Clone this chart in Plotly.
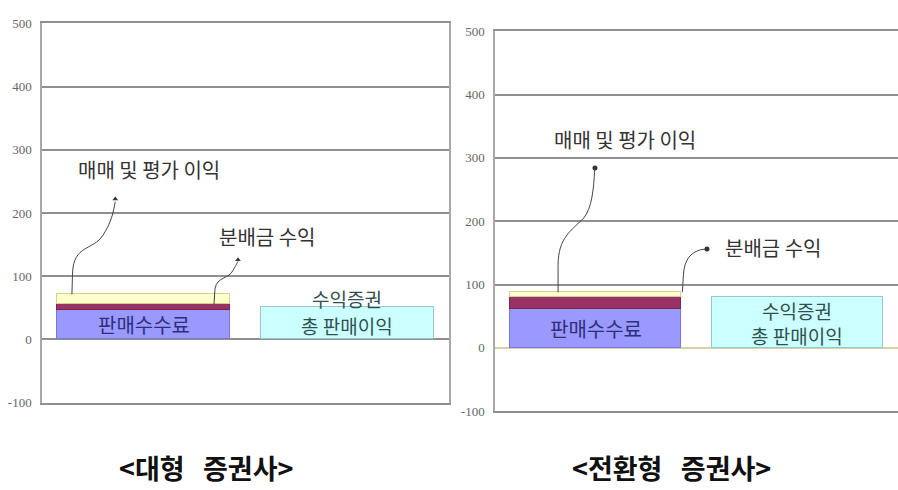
import plotly.graph_objects as go

# ---------------- data ----------------
tick_vals = [-100, 0, 100, 200, 300, 400, 500]
tick_text = ["-100", "0", "100", "200", "300", "400", "500"]

panels = ["<대형  증권사>", "<전환형  증권사>"]
fee = [46, 61]            # 판매수수료
dividend = [9, 19]        # 분배금 수익
trading = [16, 8]         # 매매 및 평가 이익
fund_total = [51, 80]     # 수익증권 총 판매이익

C_BLUE = "#9999FF"
C_RED = "#993366"
C_YEL = "#FFFFCC"
C_CYAN = "#CCFFFF"
GRID = "#8f8f8f"
KR = "Noto Sans CJK KR"

fig = go.Figure()

xdom = [[42 / 898, 449 / 898], [495 / 898, 1.0]]
ydom = [[1 - 408 / 490, 1 - 17 / 490], [1 - 417 / 490, 1 - 25 / 490]]
W = 0.85

for i in range(2):
    xa = "x" if i == 0 else "x2"
    ya = "y" if i == 0 else "y2"
    fig.add_trace(go.Bar(x=[0], y=[fee[i]], width=W, marker=dict(color=C_BLUE, line=dict(color="#7777DD", width=1)),
                         xaxis=xa, yaxis=ya, showlegend=False, hoverinfo="skip"))
    fig.add_trace(go.Bar(x=[0], y=[dividend[i]], width=W, marker=dict(color=C_RED, line=dict(color="#7a2850", width=1)),
                         xaxis=xa, yaxis=ya, showlegend=False, hoverinfo="skip"))
    fig.add_trace(go.Bar(x=[0], y=[trading[i]], width=W, marker=dict(color=C_YEL, line=dict(color="#D8D090", width=1)),
                         xaxis=xa, yaxis=ya, showlegend=False, hoverinfo="skip"))
    fig.add_trace(go.Bar(x=[1], y=[fund_total[i]], width=W, marker=dict(color=C_CYAN, line=dict(color="#99C8C8", width=1.5)),
                         xaxis=xa, yaxis=ya, showlegend=False, hoverinfo="skip"))

fig.update_layout(barmode="stack")

for i in range(2):
    sfx = "" if i == 0 else "2"
    fig.layout["xaxis" + sfx] = dict(domain=xdom[i], range=[-0.5, 1.5], showticklabels=False, showgrid=False,
                                     zeroline=False, showline=True, mirror=True, linecolor=GRID, linewidth=1.5,
                                     anchor="y" + sfx, fixedrange=True)
    fig.layout["yaxis" + sfx] = dict(domain=ydom[i], range=[-100, 500], tickvals=tick_vals, ticktext=tick_text,
                                     showgrid=True, gridcolor=GRID, gridwidth=1.5, zeroline=True,
                                     zerolinecolor=GRID if i == 0 else "#D8D0A8", zerolinewidth=1.5,
                                     showline=True, linecolor="#a8a8a8", linewidth=1.5, mirror=(i == 0),
                                     ticks="", ticklen=0, ticklabelstandoff=6,
                                     tickfont=dict(family="Liberation Serif", size=13, color="#666666"),
                                     anchor="x" + sfx, fixedrange=True)

# curvy arrows (data coords, start at stack tops)
tot = [fee[i] + dividend[i] + trading[i] for i in range(2)]
mid = [fee[i] + dividend[i] for i in range(2)]
paths = [
    ("x", "y", f"M -0.353,{tot[0]} L -0.35,105 C -0.345,150 -0.25,140 -0.2,165 C -0.16,185 -0.15,200 -0.14,218", (-0.14, 222), "triangle-up"),
    ("x", "y", f"M 0.345,{mid[0]} L 0.35,80 C 0.36,100 0.42,95 0.44,110 C 0.455,118 0.46,122 0.463,123", (0.463, 126), "triangle-up"),
    ("x2", "y2", f"M -0.187,{tot[1]} L -0.187,130 C -0.187,175 -0.12,185 -0.06,205 C -0.02,220 -0.01,250 -0.005,283", (-0.004, 284), "circle"),
    ("x2", "y2", f"M 0.43,{tot[1]} L 0.435,115 C 0.44,140 0.47,150 0.52,155 L 0.545,156", (0.552, 156), "circle"),
]
for xr, yr, p, end, sym in paths:
    fig.add_shape(type="path", path=p, xref=xr, yref=yr, line=dict(color="#444444", width=1))
    fig.add_trace(go.Scatter(x=[end[0]], y=[end[1]], mode="markers", xaxis=xr, yaxis=yr,
                             marker=dict(symbol=sym, size=5, color="#333333"), showlegend=False, hoverinfo="skip"))

# annotations
def ann(xr, yr, x, y, text, size, color):
    fig.add_annotation(x=x, y=y, xref=xr, yref=yr, text=text, showarrow=False,
                       xanchor="center", yanchor="middle",
                       font=dict(family=KR, size=size, color=color))

ann("x", "y", 0.026, 269, "매매 및 평가 이익", 20, "#333333")
ann("x", "y", 0.606, 163, "분배금 수익", 20, "#333333")
ann("x2", "y2", 0.145, 329, "매매 및 평가 이익", 20, "#333333")
ann("x2", "y2", 0.88, 159, "분배금 수익", 20, "#333333")

for i in range(2):
    xr = "x" if i == 0 else "x2"
    yr = "y" if i == 0 else "y2"
    ann(xr, yr, 0, fee[i] / 2, "판매수수료", 20, "#2E2E7A")

ann("x", "y", 1, 65, "수익증권", 19, "#2F4F4F")
ann("x", "y", 1, 22, "총 판매이익", 19, "#2F4F4F")
ann("x2", "y2", 1, fund_total[1] / 2 + 19, "수익증권", 19, "#2F4F4F")
ann("x2", "y2", 1, fund_total[1] / 2 - 20, "총 판매이익", 19, "#2F4F4F")

# bottom titles
def esc(s):
    return s.replace("<", "&lt;").replace(">", "&gt;").replace("  ", "&nbsp;&nbsp;&nbsp;")

fig.add_annotation(x=206 / 898, y=1 - 475 / 490, xref="paper", yref="paper", text="<b>" + esc(panels[0]) + "</b>",
                   xanchor="center", yanchor="middle",
                   showarrow=False, font=dict(family=KR, size=27, color="#111111"))
fig.add_annotation(x=671 / 898, y=1 - 475 / 490, xref="paper", yref="paper", text="<b>" + esc(panels[1]) + "</b>",
                   xanchor="center", yanchor="middle",
                   showarrow=False, font=dict(family=KR, size=27, color="#111111"))

fig.update_layout(width=898, height=490, margin=dict(l=0, r=0, t=0, b=0),
                  paper_bgcolor="white", plot_bgcolor="white", showlegend=False,
                  bargap=0)

fig.write_html("out.html")
